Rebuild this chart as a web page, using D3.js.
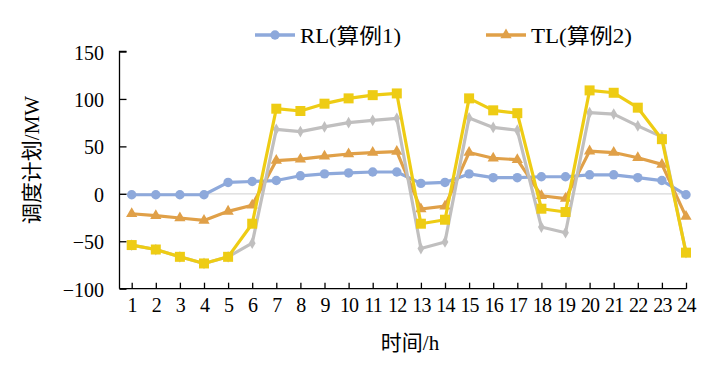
<!DOCTYPE html>
<html><head><meta charset="utf-8">
<script src="https://cdn.jsdelivr.net/npm/d3@7"></script>
<style>body{margin:0;background:#fff}svg{display:block}</style>
</head><body>
<script>
const hours = d3.range(1, 25);
const yTicks = [-100, -50, 0, 50, 100, 150];
const rlValues = [-1,-1,-1,-1,12,13,14,19,21,22,23,23,11,12,21,17,17,18,18,20,20,17,14,-1];
const tlValues = [-21,-23,-25.5,-28,-18.5,-12,35,36.5,39.5,42,43.5,44.5,-16,-13,43.5,37.5,36,-2,-5,45,43.5,38,31,-24];
const grayValues = [-54,-58.7,-66.4,-73.4,-66.4,-52,68,65.6,70.5,75,77.5,79.6,-57.7,-50.7,80,70,67,-35,-41,85.5,84,71.6,60,-62];
const yellowValues = [-54,-58.7,-66.4,-73.4,-66.4,-31.5,89.7,87.3,95,100.6,104,105.8,-31.5,-27.3,100.6,88,85,-15.7,-19.2,109,106.5,90.8,57.6,-62];
const legendNames = ["RL(算例1)", "TL(算例2)"];

const W = 707, H = 367;
const svg = d3.select("body").append("svg").attr("width", W).attr("height", H);
const font = "'Liberation Serif','Times New Roman','Noto Sans CJK SC',serif";

const x = d3.scalePoint().domain(hours).range([131.7, 686]);
const y = d3.scaleLinear().domain([-100, 150]).range([288.7, 51.5]);

// zero line
svg.append("line").attr("x1", 120).attr("x2", 688).attr("y1", y(0)).attr("y2", y(0))
  .attr("stroke", "#d9d9d9").attr("stroke-width", 1.3);

// y axis
const yAxis = svg.append("g").attr("transform", "translate(119.5,0)")
  .call(d3.axisRight(y).tickValues(yTicks).tickSize(7).tickFormat(d => d < 0 ? "\u2212" + Math.abs(d) : d));
yAxis.select(".domain").attr("stroke", "#000").attr("stroke-width", 1.3).attr("d", `M7,${y(150)}H0V${y(-100)}`);
yAxis.selectAll(".tick line").attr("stroke", "#000").attr("stroke-width", 1.3);
yAxis.selectAll(".tick text").attr("x", -15.5).attr("text-anchor", "end")
  .style("font-family", font).style("font-size", "20px").attr("fill", "#000").attr("dy", "0.38em");

// x axis
const xAxis = svg.append("g").attr("transform", `translate(0,${y(-100)})`)
  .call(d3.axisTop(x).tickSize(6));
xAxis.select(".domain").attr("stroke", "#000").attr("stroke-width", 1.3).attr("d", `M119.5,0H686.5`);
xAxis.selectAll(".tick line").attr("stroke", "#000").attr("stroke-width", 1.3);
xAxis.selectAll(".tick text").attr("y", 9.5).attr("dy", "0.71em")
  .style("font-family", font).style("font-size", "20px").attr("fill", "#000")
  .style("letter-spacing", "-0.8px");

// axis titles
svg.append("text").attr("x", 410).attr("y", 350).attr("text-anchor", "middle")
  .style("font-family", font).style("font-size", "21px").text("时间/h");
svg.append("text").attr("transform", "translate(39,160) rotate(-90)").attr("text-anchor", "middle")
  .style("font-family", font).style("font-size", "21px").text("调度计划/MW");

const line = d3.line().x((d, i) => x(hours[i])).y(d => y(d));

const series = [
  {vals: rlValues, color: "#8EA9DB", shape: d3.symbolCircle, size: 70},
  {vals: tlValues, color: "#E0A048", shape: d3.symbolTriangle, size: 55},
  {vals: grayValues, color: "#C0BFBF", shape: d3.symbolDiamond, size: 40},
  {vals: yellowValues, color: "#EECC14", shape: d3.symbolSquare, size: 100}
];

series.forEach(s => {
  svg.append("path").datum(s.vals).attr("d", line).attr("fill", "none")
    .attr("stroke", s.color).attr("stroke-width", 3.2).attr("stroke-linejoin", "round");
  svg.append("g").selectAll("path").data(s.vals).join("path")
    .attr("transform", (d, i) => `translate(${x(hours[i])},${y(d)})`)
    .attr("d", d3.symbol().type(s.shape).size(s.size)).attr("fill", s.color);
});

// legend
const legendX = [255, 486];
legendNames.forEach((name, i) => {
  const s = series[i];
  const g = svg.append("g").attr("transform", `translate(${legendX[i]},35)`);
  g.append("line").attr("x1", 0).attr("x2", 40).attr("stroke", s.color).attr("stroke-width", 3.5);
  g.append("path").attr("transform", "translate(20,0)").attr("d", d3.symbol().type(s.shape).size(s.size)).attr("fill", s.color);
  g.append("text").attr("x", 45).attr("dy", "0.36em").style("font-family", font).style("font-size", "21px")
    .attr("textLength", 101).attr("lengthAdjust", "spacingAndGlyphs").text(name);
});
</script>
</body></html>
